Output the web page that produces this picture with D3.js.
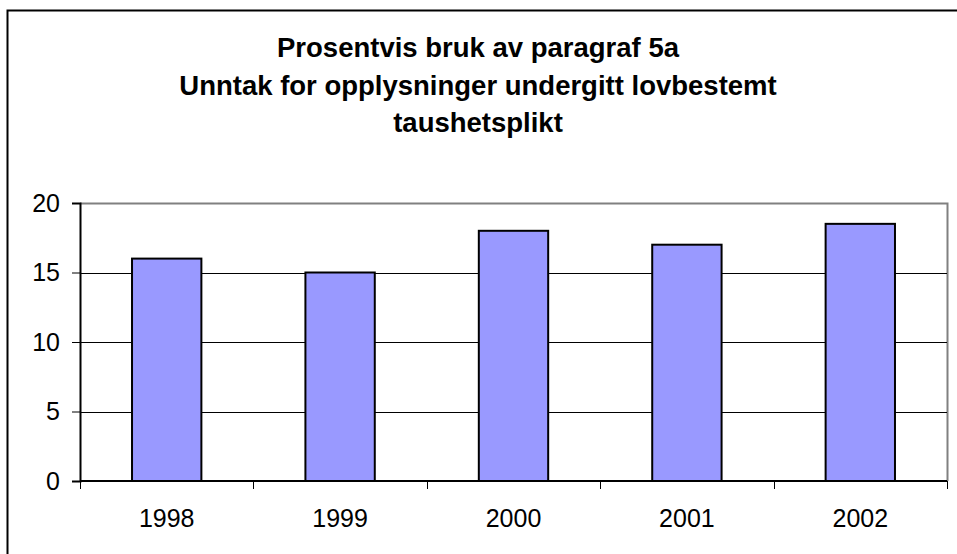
<!DOCTYPE html>
<html>
<head>
<meta charset="utf-8">
<script src="https://cdn.jsdelivr.net/npm/d3@7"></script>
<style>
  body { margin: 0; background: #fff; }
  text { font-family: "Liberation Sans", Arial, sans-serif; }
</style>
</head>
<body>
<svg width="957" height="554"></svg>
<script>
// data
var years = ["1998", "1999", "2000", "2001", "2002"];
var percent = [16, 15, 18, 17, 18.5];
var yTicks = [0, 5, 10, 15, 20];
var titleLines = ["Prosentvis bruk av paragraf 5a", "Unntak for opplysninger undergitt lovbestemt", "taushetsplikt"];

var svg = d3.select("svg"),
    width = +svg.attr("width"),
    height = +svg.attr("height");

// outer chart frame (runs off the right and bottom)
svg.append("rect")
    .attr("x", 7.5).attr("y", 10.5)
    .attr("width", 960).attr("height", 560)
    .attr("fill", "#fff")
    .attr("stroke", "#000")
    .attr("stroke-width", 2);

// title
svg.append("g").selectAll("text")
    .data(titleLines)
    .enter()
    .append("text")
        .attr("x", 478)
        .attr("y", (d, i) => 57 + i * 37.5)
        .attr("text-anchor", "middle")
        .style("font-size", "27.5px")
        .style("font-weight", "bold")
        .text(d => d);

var plot = { left: 80, top: 203, right: 947, bottom: 481 };

var x = d3.scaleBand()
    .domain(years)
    .range([plot.left, plot.right])
    .paddingInner(0.6)
    .paddingOuter(0.3);

var xb = d3.scaleBand().domain(years).range([plot.left, plot.right]);

var y = d3.scaleLinear()
    .domain([0, 20])
    .range([plot.bottom, plot.top]);

// plot border (top/right grey)
svg.append("path")
    .attr("d", "M" + plot.left + "," + (plot.top + 0.5) + "H" + (plot.right + 0.5) + "V" + plot.bottom)
    .attr("fill", "none")
    .attr("stroke", "#808080")
    .attr("stroke-width", 2);

// gridlines
svg.append("g").selectAll("line")
    .data(yTicks.filter(d => d > 0 && d < 20))
    .enter()
    .append("line")
        .attr("x1", plot.left).attr("x2", plot.right)
        .attr("y1", d => Math.round(y(d)) + 0.5)
        .attr("y2", d => Math.round(y(d)) + 0.5)
        .attr("stroke", "#000");

// bars
svg.append("g").selectAll("rect")
    .data(percent)
    .enter()
    .append("rect")
        .attr("x", (d, i) => x(years[i]))
        .attr("y", d => y(d))
        .attr("width", x.bandwidth())
        .attr("height", d => y(0) - y(d))
        .attr("fill", "#9999ff")
        .attr("stroke", "#000")
        .attr("stroke-width", 2);

// y axis
var yAxis = svg.append("g")
    .attr("transform", "translate(" + plot.left + ",0)")
    .call(d3.axisLeft(y).tickValues(yTicks).tickSize(8).tickPadding(12));
yAxis.select(".domain").attr("stroke-width", 2);
yAxis.selectAll("text").style("font-size", "25px").attr("fill", "#000");

// x axis: ticks between categories
var xAxis = svg.append("g")
    .attr("transform", "translate(0," + plot.bottom + ")");
xAxis.append("line")
    .attr("x1", plot.left).attr("x2", plot.right)
    .attr("stroke", "#000").attr("stroke-width", 2);
xAxis.selectAll(".tk")
    .data(years.concat(["end"]))
    .enter()
    .append("line")
        .attr("class", "tk")
        .attr("x1", (d, i) => Math.round(plot.left + i * xb.bandwidth()) + 0.5)
        .attr("x2", (d, i) => Math.round(plot.left + i * xb.bandwidth()) + 0.5)
        .attr("y1", 0).attr("y2", 8)
        .attr("stroke", "#000");
xAxis.selectAll("text")
    .data(years)
    .enter()
    .append("text")
        .attr("x", d => xb(d) + xb.bandwidth() / 2)
        .attr("y", 45.5)
        .attr("text-anchor", "middle")
        .style("font-size", "25px")
        .text(d => d);
</script>
</body>
</html>
